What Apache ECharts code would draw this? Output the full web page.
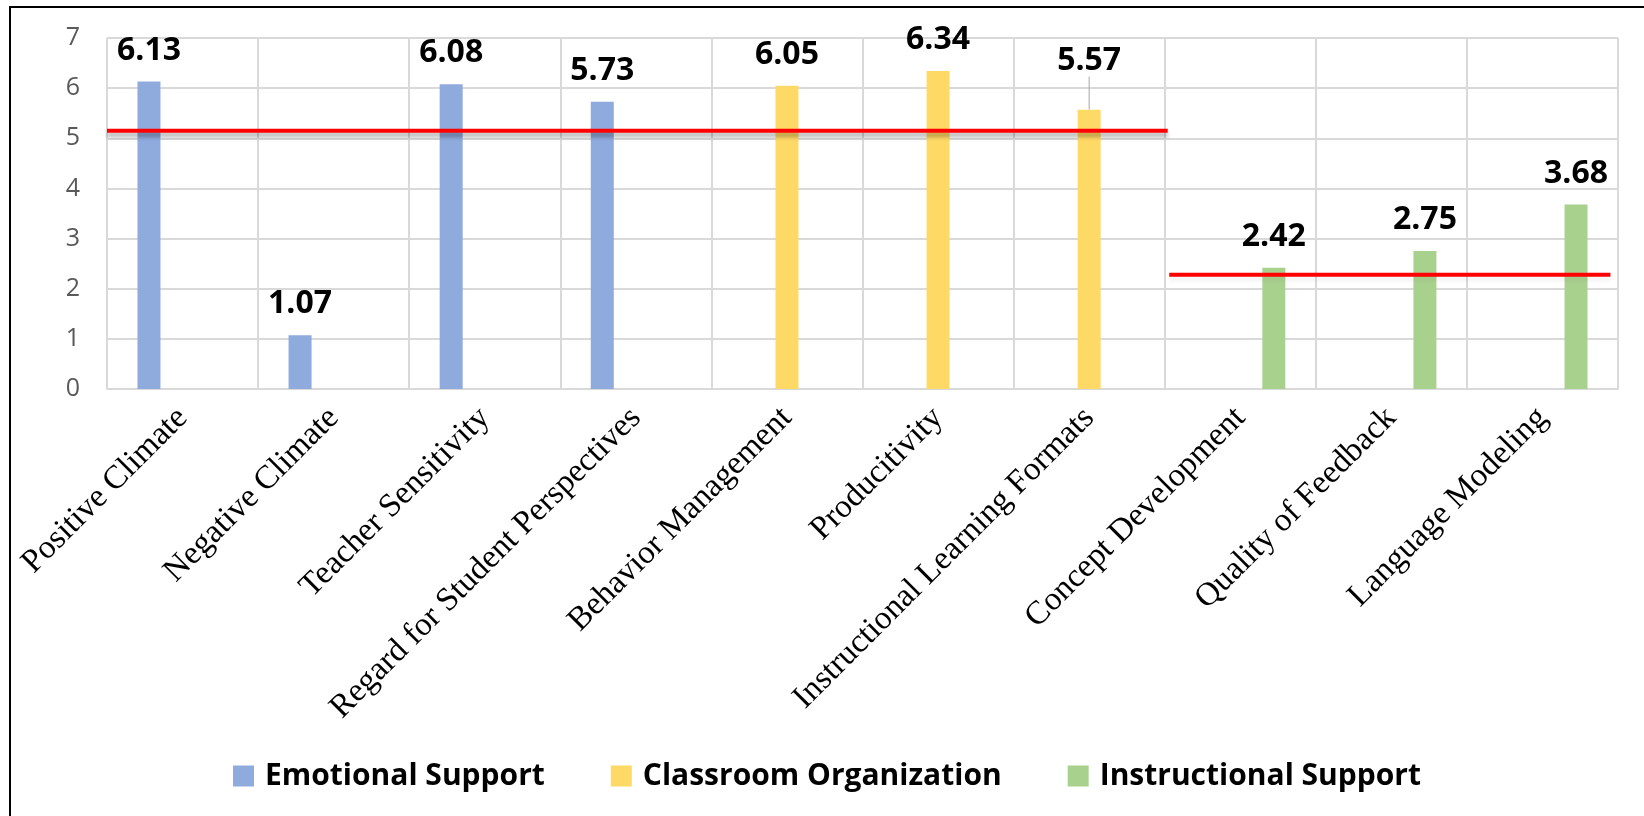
<!DOCTYPE html>
<html>
<head>
<meta charset="utf-8">
<script src="https://cdn.jsdelivr.net/npm/echarts@6/dist/echarts.min.js"></script>
<style>
  html, body { margin: 0; padding: 0; background: #fff; }
  #chart { width: 1644px; height: 816px; }
</style>
</head>
<body>
<div id="chart"></div>
<script>
// categories along the x axis
var categories = [
    'Positive Climate', 'Negative Climate', 'Teacher Sensitivity',
    'Regard for Student Perspectives', 'Behavior Management', 'Producitivity',
    'Instructional Learning Formats', 'Concept Development',
    'Quality of Feedback', 'Language Modeling'
];

// one array per domain, '-' where the domain has no dimension
var emotionalSupport      = [6.13, 1.07, 6.08, 5.73, '-', '-', '-', '-', '-', '-'];
var classroomOrganization = ['-', '-', '-', '-', 6.05, 6.34, 5.57, '-', '-', '-'];
var instructionalSupport  = ['-', '-', '-', '-', '-', '-', '-', 2.42, 2.75, 3.68];

// red reference lines: value and span in category units
var refValues = [5.15, 2.28];
var refSpans  = [[0, 7.02], [7.03, 9.95]];

var yTicks = [0, 7, 1]; // min, max, interval

var chart = echarts.init(document.getElementById('chart'));

var labelStyle = {
    show: true,
    position: 'top',
    distance: 15,
    color: '#000',
    fontFamily: 'Open Sans',
    fontWeight: 'bold',
    fontSize: 32
};

function barSeries(name, data, color, extra) {
    var s = {
        name: name,
        type: 'bar',
        barWidth: 23,
        barGap: '46%',
        itemStyle: { color: color },
        label: labelStyle,
        data: data
    };
    return Object.assign(s, extra || {});
}

// the 5.57 label was dragged up in the original, with a leader line
var orgData = classroomOrganization.map(function(v, i) {
    if (i === 6) {
        return { value: v, labelLine: { show: true, lineStyle: { color: '#a6a6a6', width: 1 } } };
    }
    return v;
});

var refSeries = refValues.map(function(v, i) {
    return {
        type: 'line',
        xAxisIndex: 1,
        symbol: 'none',
        silent: true,
        z: 5,
        lineStyle: {
            color: '#ff0000',
            width: 4,
            shadowColor: i === 0 ? 'rgba(0,0,0,0.35)' : 'rgba(0,0,0,0.06)',
            shadowBlur: 4,
            shadowOffsetY: 4
        },
        data: [[refSpans[i][0], v], [refSpans[i][1], v]]
    };
});

var option = {
    animation: false,
    backgroundColor: '#fff',
    graphic: [{
        type: 'rect',
        shape: { x: 10, y: 7, width: 1700, height: 900 },
        style: { fill: 'none', stroke: '#000', lineWidth: 2 },
        silent: true
    }],
    grid: { left: 107, right: 26, top: 38, bottom: 427 },
    legend: {
        data: ['Emotional Support', 'Classroom Organization', 'Instructional Support'],
        left: 228,
        top: 756,
        icon: 'rect',
        itemWidth: 21,
        itemHeight: 21,
        itemGap: 66,
        textStyle: {
            color: '#000',
            fontFamily: 'Open Sans',
            fontWeight: 'bold',
            fontSize: 30,
            padding: [0, 0, 0, 6]
        }
    },
    xAxis: [{
        type: 'category',
        data: categories,
        axisTick: { show: false },
        axisLine: { lineStyle: { color: '#d9d9d9', width: 2 } },
        splitLine: { show: true, lineStyle: { color: '#d9d9d9', width: 2 } },
        axisLabel: {
            interval: 0,
            rotate: 45,
            margin: 24,
            color: '#000',
            fontFamily: 'Liberation Serif',
            fontSize: 33
        }
    }, {
        type: 'value',
        min: 0,
        max: 10,
        show: false
    }],
    yAxis: {
        type: 'value',
        min: yTicks[0],
        max: yTicks[1],
        interval: yTicks[2],
        axisLine: { show: false },
        axisTick: { show: false },
        splitLine: { lineStyle: { color: '#d9d9d9', width: 2 } },
        axisLabel: {
            margin: 27,
            color: '#595959',
            fontFamily: 'Open Sans',
            fontSize: 25
        }
    },
    series: [
        barSeries('Emotional Support', emotionalSupport, '#8faadc'),
        barSeries('Classroom Organization', orgData, '#ffd966', {
            labelLayout: function(params) {
                return params.dataIndex === 6 ? { dy: -18 } : {};
            }
        }),
        barSeries('Instructional Support', instructionalSupport, '#a9d18e')
    ].concat(refSeries)
};

chart.setOption(option);
</script>
</body>
</html>
